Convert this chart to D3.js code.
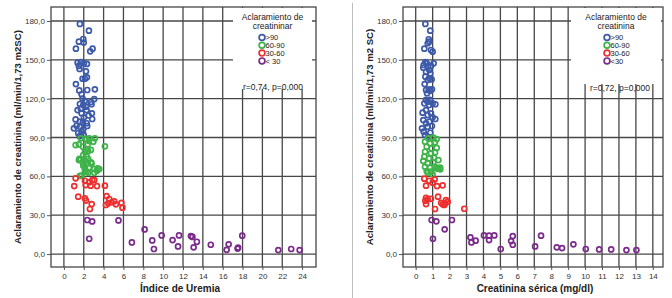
<!DOCTYPE html>
<html>
<head>
<meta charset="utf-8">
<script src="https://cdn.jsdelivr.net/npm/d3@7"></script>
<style>
  body { margin: 0; background: #fff; }
  svg { display: block; font-family: "Liberation Sans", Arial, sans-serif; }
</style>
</head>
<body>
<svg id="chart" width="672" height="298"></svg>
<script>
// Tick values
const yTicks = [0, 30, 60, 90, 120, 150, 180];
const uremiaTicks = [0, 2, 4, 6, 8, 10, 12, 14, 16, 18, 20, 22, 24];
const creatTicks = [0, 1, 2, 3, 4, 5, 6, 7, 8, 9, 10, 11, 12, 13, 14];

// Left panel: Índice de Uremia vs clearance
const uremiaOver90 = [
  [1.61,177.7],[2.52,172.5],[1.95,166.1],[1.51,164],[2.0,163.3],[1.21,158.6],[2.89,158.6],[2.65,156.6],
  [1.38,147.8],[1.71,148.3],[2.02,147.3],[2.32,146.8],[1.51,145.3],[1.58,142.9],[2.22,141.1],
  [1.88,135.4],[2.12,135.4],[2.32,136.5],[1.21,131.3],[3.12,127.2],[1.55,126.4],[2.35,126.7],
  [1.78,123.4],[1.88,120],[3.06,119.7],[2.72,117.4],[1.61,115.9],[1.95,115.1],[2.22,113.8],[2.79,115.7],
  [1.38,111.2],[2.29,111.2],[1.78,108.7],[2.82,108.7],[1.18,104],[2.85,104.3],[2.02,105.6],[1.61,102.2],
  [1.28,99.1],[2.29,101],[1.01,97.1],[1.61,98.3],[2.35,98.9],[1.78,94.5],[1.44,93.3],[1.95,96.3],
  [2.1,118.2],[1.7,112.5],[2.5,107],[1.9,101.5],[2.0,92],[1.6,91]
];
const uremia60to90 = [
  [1.71,89.4],[2.28,88.8],[2.55,89.4],[3.12,89.4],[2.96,86.8],[2.52,87.3],[1.18,84.2],[1.51,84.7],
  [1.92,82.9],[2.39,84.7],[4.13,83.2],[2.32,81.1],[2.12,79],[2.45,79.6],[2.72,80.4],[1.95,76.5],
  [2.29,75.2],[1.68,73.2],[1.56,73.6],[2.45,73.4],[2.12,71.3],[2.72,70.8],[2.39,70.1],[1.95,68.2],
  [2.12,66.2],[2.52,66.7],[3.06,65.7],[3.4,66.2],[3.56,65.7],[3.33,64.4],[3.06,62.8],[2.28,63.6],
  [1.78,60.5],[1.61,60.3],[2.45,62.8],[2.12,64.1],[2.79,70],[1.51,72.6],[1.92,70.6]
];
const uremia30to60 = [
  [1.18,58.5],[1.04,52.5],[2.12,56.6],[2.55,55.4],[2.69,52.8],[3.06,57.2],[3.33,52.5],[4.13,52.8],
  [2.86,57.2],[2.19,53.3],[1.44,44.3],[2.12,43],[2.22,41.3],[2.8,38.6],[2.62,34.8],[4.3,44.8],
  [4.57,42.5],[4.8,40],[5.07,40.7],[5.24,38.4],[4.23,37.9],[4.47,39.2],[5.8,39.6],[5.9,35.8]
];
const uremiaUnder30 = [
  [2.35,26.3],[2.85,25.2],[2.55,11.8],[5.5,26],[6.85,9],[8.13,19],[8.9,10.5],[9.07,3.9],[9.85,14.4],
  [10.95,10.8],[11.6,14.4],[11.5,5.9],[12.8,13.9],[12.95,13.2],[13.07,5.2],[13.4,9.5],[14.8,7.2],
  [16.6,7.5],[16.4,3.3],[17.5,4.2],[17.55,5],[17.97,14.2],[21.6,3.1],[22.9,3.9],[23.75,3.1]
];

// Right panel: Creatinina sérica vs clearance
const creatOver90 = [
  [0.57,177.7],[0.86,172.5],[0.77,165.9],[0.8,164],[0.71,162.8],[0.51,158.6],[0.9,157.6],[1.0,156.3],
  [0.57,148.3],[0.65,147.3],[0.47,146],[0.73,144.7],[0.9,145.3],[1.06,147.3],[0.45,143.9],[0.8,142.1],
  [0.61,140.8],[0.86,139.5],[0.57,137],[0.8,135.7],[0.94,134.9],[0.71,134.4],[0.53,131.3],[0.61,126.7],
  [0.77,127.2],[0.86,126.2],[0.96,127.2],[0.67,124.2],[0.61,119],[0.71,117.7],[0.84,119],[1.0,116.4],
  [1.16,115.7],[0.51,116.4],[0.8,115.1],[0.41,109.2],[0.61,111.2],[0.71,107.4],[0.9,108.7],[1.0,105.6],
  [0.45,103.5],[1.16,104.3],[0.61,101],[0.8,102.2],[0.37,97.1],[0.47,94.5],[0.71,98.3],[0.96,98.9],
  [0.86,93.7],[0.55,91.9],[0.73,90.6]
];
const creat60to90 = [
  [0.74,89.4],[1.04,89.9],[1.24,88.8],[0.55,86.8],[0.84,85.5],[1.14,86.3],[0.65,82.9],[0.94,81.6],
  [1.24,82],[0.55,79],[0.9,77.8],[1.14,78.5],[0.51,75.2],[0.79,73.9],[1.08,74.4],[0.45,71.9],
  [0.71,70.1],[1.04,70.8],[1.34,72.6],[0.55,67.4],[0.84,66.7],[1.14,67.4],[0.65,64.1],[0.9,63.6],
  [1.24,66.2],[1.44,66.7],[1.32,65.9],[1.45,65.4],[0.71,62.7],[1.0,61.5]
];
const creat30to60 = [
  [0.51,58.2],[0.61,52.8],[0.8,56.6],[1.0,55.1],[1.12,57.7],[1.26,52.5],[1.59,53.1],[0.61,43.5],
  [0.71,42.3],[0.57,41.2],[0.61,38.6],[0.9,42.7],[1.14,34.8],[1.32,44.3],[1.5,39.6],[1.59,38.4],
  [1.75,39.2],[1.89,40.4],[1.79,41.7],[1.69,37.9],[2.87,35]
];
const creatUnder30 = [
  [0.94,26.3],[1.22,25.3],[2.14,26.3],[1.02,11.8],[1.71,19.1],[3.23,12.9],[3.29,9],[3.54,10.3],
  [4.03,14.4],[4.33,14.2],[4.33,10.8],[4.64,14.4],[5.02,3.9],[5.63,10],[5.73,13.9],[5.73,7.2],
  [7.05,5.9],[7.4,14.2],[8.33,5.2],[8.64,4.6],[9.31,7.5],[10.04,3.9],[10.83,3.6],[11.54,3.6],
  [12.44,3.1],[13.03,3.1]
];

const colors = ["#3d5aaa", "#3fb34a", "#ee2f2f", "#7b2b8b"];
const leftLabels = [">90", "60-90", "30-60", "< 30"];
const rightLabels = [">90", "60-90", "30-60", "<30"];

const svg = d3.select("#chart");
const comma = d => d3.format(".1f")(d).replace(".", ",");

// separator of the two pictures
svg.append("line")
  .attr("x1", 352.5).attr("x2", 352.5).attr("y1", 3).attr("y2", 298)
  .attr("stroke", "#bdbdbd").attr("stroke-width", 1);

function drawPanel(opt) {
  const x = d3.scaleLinear().domain(opt.xDomain).range([opt.left, opt.right]);
  const y = d3.scaleLinear().domain([-10, 190.8]).range([267, 7]);
  const g = svg.append("g");

  // grid
  g.selectAll(".hg").data(yTicks).enter().append("line")
    .attr("x1", opt.left).attr("x2", opt.right)
    .attr("y1", d => y(d)).attr("y2", d => y(d))
    .attr("stroke", "#474747").attr("stroke-width", 1.3);
  g.selectAll(".vg").data(opt.xTicks).enter().append("line")
    .attr("x1", d => x(d)).attr("x2", d => x(d))
    .attr("y1", 7).attr("y2", 267)
    .attr("stroke", "#474747").attr("stroke-width", 1.3);

  // legend background hides the grid
  g.append("rect")
    .attr("x", opt.box[0]).attr("y", 8)
    .attr("width", opt.box[1] - opt.box[0]).attr("height", opt.box[2] - 8)
    .attr("fill", "#fff");

  // frame
  g.append("rect")
    .attr("x", opt.left).attr("y", 7)
    .attr("width", opt.right - opt.left).attr("height", 260)
    .attr("fill", "none").attr("stroke", "#474747").attr("stroke-width", 1.3);

  // axes
  const xAxis = g.append("g")
    .attr("transform", "translate(0,267)")
    .call(d3.axisBottom(x).tickValues(opt.xTicks).tickSize(3).tickPadding(3).tickFormat(d3.format("d")));
  const yAxis = g.append("g")
    .attr("transform", `translate(${opt.left},0)`)
    .call(d3.axisLeft(y).tickValues(yTicks).tickSize(4).tickPadding(2).tickFormat(comma));
  [xAxis, yAxis].forEach(a => {
    a.select(".domain").remove();
    a.selectAll("line").attr("stroke", "#555");
    a.selectAll("text").attr("fill", "#333").style("font-size", "8px");
  });

  // axis titles
  g.append("text")
    .attr("x", opt.titleX).attr("y", 292)
    .attr("text-anchor", "middle")
    .style("font-size", "10px").style("font-weight", "bold").attr("fill", "#222")
    .text(opt.xTitle);
  g.append("text")
    .attr("transform", `translate(${opt.yTitleX},137) rotate(-90)`)
    .attr("text-anchor", "middle")
    .style("font-size", "9.6px").style("font-weight", "bold").attr("fill", "#222")
    .text(opt.yTitle);

  // points
  opt.series.forEach((s, i) => {
    g.selectAll(".p" + i).data(s).enter().append("circle")
      .attr("cx", d => x(d[0])).attr("cy", d => y(d[1]))
      .attr("r", 2.5)
      .attr("fill", "none")
      .attr("stroke", colors[i]).attr("stroke-width", 1.7);
  });

  // legend
  const lg = g.append("g").style("font-size", "8.5px").attr("fill", "#222");
  lg.append("text").attr("x", opt.legX).attr("y", 20).attr("text-anchor", "middle").text("Aclaramiento de");
  lg.append("text").attr("x", opt.legX).attr("y", 28.5).attr("text-anchor", "middle").text(opt.legTitle2);
  opt.labels.forEach((lab, i) => {
    const yy = 37.5 + i * 7.8;
    lg.append("circle").attr("cx", opt.legCx).attr("cy", yy)
      .attr("r", 2.9).attr("fill", "none")
      .attr("stroke", colors[i]).attr("stroke-width", 1.7);
    lg.append("text").attr("x", opt.legCx + 3.5).attr("y", yy + 2.8)
      .style("font-size", "7.5px").text(lab);
  });

  // correlation note
  g.append("text")
    .attr("x", opt.noteX).attr("y", opt.noteY)
    .attr("text-anchor", "middle")
    .style("font-size", "8.5px").attr("fill", "#222")
    .text(opt.note);
}

drawPanel({
  left: 51, right: 316, xDomain: [-1.3, 25.4], xTicks: uremiaTicks,
  xTitle: "Índice de Uremia", titleX: 180,
  yTitle: "Aclaramiento de creatinina (ml/min/1,73 m2SC)", yTitleX: 21,
  series: [uremiaOver90, uremia60to90, uremia30to60, uremiaUnder30],
  box: [233, 312, 89], legX: 272.5, legCx: 262, legTitle2: "creatininar", labels: leftLabels,
  note: "r=0,74, p=0,000", noteX: 273, noteY: 89.5
});

drawPanel({
  left: 403, right: 663, xDomain: [-0.75, 14.6], xTicks: creatTicks,
  xTitle: "Creatinina sérica (mg/dl)", titleX: 535,
  yTitle: "Aclaramiento de creatinina (ml/min/1,73 m2 SC)", yTitleX: 373,
  series: [creatOver90, creat60to90, creat30to60, creatUnder30],
  box: [571, 661, 84], legX: 616, legCx: 607, legTitle2: "creatinina", labels: rightLabels,
  note: "r=0,72, p=0,000", noteX: 620, noteY: 91
});
</script>
</body>
</html>
